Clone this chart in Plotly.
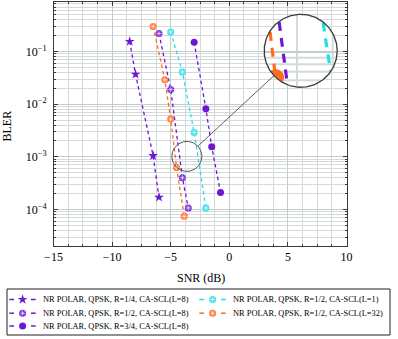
import numpy as np
import plotly.graph_objects as go

# ---------------- data ----------------
snr_r14_l8 = [-8.5, -8.0, -6.5, -6.0]
bler_r14_l8 = [0.155, 0.037, 1.05e-3, 1.7e-4]

snr_r12_l1 = [-5.0, -4.0, -3.0, -2.0]
bler_r12_l1 = [0.235, 0.041, 2.9e-3, 1.07e-4]

snr_r12_l8 = [-6.0, -5.0, -4.0, -3.5]
bler_r12_l8 = [0.22, 0.019, 4.0e-4, 1.07e-4]

snr_r12_l32 = [-6.5, -5.5, -5.0, -4.5, -3.85]
bler_r12_l32 = [0.30, 0.029, 5.2e-3, 6.3e-4, 7.4e-5]

snr_r34_l8 = [-3.0, -2.0, -1.5, -0.75]
bler_r34_l8 = [0.15, 8.2e-3, 1.55e-3, 2.1e-4]

labels = [
    "NR POLAR, QPSK, R=1/4, CA-SCL(L=8)",
    "NR POLAR, QPSK, R=1/2, CA-SCL(L=1)",
    "NR POLAR, QPSK, R=1/2, CA-SCL(L=8)",
    "NR POLAR, QPSK, R=1/2, CA-SCL(L=32)",
    "NR POLAR, QPSK, R=3/4, CA-SCL(L=8)",
]
x_tick_vals = [-15, -10, -5, 0, 5, 10]

# ---------------- styles ----------------
PURPLE = "#7016d6"
CYAN = "#1fe0e8"
ORANGE = "#ff6a1c"
GRID = "#c3cbcb"
GRIDM = "#d4dada"
AX = "#3a3a3a"
SERIF = "Liberation Serif"

series = [
    dict(x=snr_r14_l8, y=bler_r14_l8, color=PURPLE, symbol="star", size=7.5, pattern=False),
    dict(x=snr_r12_l1, y=bler_r12_l1, color=CYAN, symbol="circle", size=7, pattern=True),
    dict(x=snr_r12_l8, y=bler_r12_l8, color=PURPLE, symbol="circle", size=7, pattern=True),
    dict(x=snr_r12_l32, y=bler_r12_l32, color=ORANGE, symbol="circle", size=7, pattern=True),
    dict(x=snr_r34_l8, y=bler_r34_l8, color=PURPLE, symbol="circle", size=7, pattern=False),
]

# ---------------- geometry ----------------
FW, FH = 398, 339
PL, PR, PT, PB = 53.5, 346.5, 1.5, 245.8
XR = [-15, 10]
YR = [-4.69, -0.05]


def px(x):
    return PL + (np.asarray(x, float) - XR[0]) / (XR[1] - XR[0]) * (PR - PL)


def py(y):
    return PT + (YR[1] - np.log10(np.asarray(y, float))) / (YR[1] - YR[0]) * (PB - PT)


# spy (zoom) settings
spy_x, spy_y = -3.62, 1.02e-3
SC = np.array([float(px(spy_x)), float(py(spy_y))])
r_s = 15.0
BC = np.array([300.7, 50.8])
r_b = 36.5
M = r_b / r_s


def mag(p):
    return BC + M * (np.asarray(p, float) - SC)


def clip_seg(p0, p1, c, r):
    d = p1 - p0
    f = p0 - c
    a = d @ d
    b = 2 * f @ d
    cc = f @ f - r * r
    disc = b * b - 4 * a * cc
    if a == 0 or disc <= 0:
        return None
    s = np.sqrt(disc)
    t0 = (-b - s) / (2 * a)
    t1 = (-b + s) / (2 * a)
    t0c, t1c = max(t0, 0.0), min(t1, 1.0)
    if t0c >= t1c:
        return None
    return p0 + t0c * d, p0 + t1c * d, t0c, t1c


def clip_polyline(pts, c, r):
    xs, ys = [], []
    prev_end_open = False
    for i in range(len(pts) - 1):
        res = clip_seg(pts[i], pts[i + 1], c, r)
        if res is None:
            prev_end_open = False
            continue
        a, b, t0, t1 = res
        if not (prev_end_open and t0 == 0.0):
            if xs:
                xs.append(None)
                ys.append(None)
            xs.append(a[0])
            ys.append(a[1])
        xs.append(b[0])
        ys.append(b[1])
        prev_end_open = (t1 == 1.0)
    return xs, ys


def disk_clip(center, rad, c, r):
    if np.linalg.norm(center - c) >= r + rad:
        return None
    ang1 = np.linspace(0, 2 * np.pi, 72, endpoint=False)
    pts = [center + rad * np.array([np.cos(a), np.sin(a)]) for a in ang1]
    pts = [p for p in pts if np.linalg.norm(p - c) <= r]
    ang2 = np.linspace(0, 2 * np.pi, 360, endpoint=False)
    pts2 = [c + r * np.array([np.cos(a), np.sin(a)]) for a in ang2]
    pts2 = [p for p in pts2 if np.linalg.norm(p - center) <= rad]
    allp = pts + pts2
    if len(allp) < 3:
        return None
    m = np.mean(allp, axis=0)
    allp.sort(key=lambda p: np.arctan2(p[1] - m[1], p[0] - m[0]))
    return allp


fig = go.Figure()

# ---------------- main traces ----------------
for s in series:
    fig.add_trace(go.Scatter(
        x=s["x"], y=s["y"], mode="lines+markers", showlegend=False,
        line=dict(color=s["color"], width=1.3, dash="3.5px,3px"),
        marker=dict(symbol=s["symbol"], size=s["size"], color=s["color"], line=dict(width=0)),
        xaxis="x", yaxis="y", hoverinfo="skip",
    ))
    if s["pattern"]:
        fig.add_trace(go.Scatter(
            x=s["x"], y=s["y"], mode="markers", showlegend=False,
            marker=dict(symbol="asterisk-open", size=5.5, color="rgba(255,255,255,0.55)",
                        line=dict(width=1, color="rgba(255,255,255,0.55)")),
            xaxis="x", yaxis="y", hoverinfo="skip",
        ))

# ---------------- spy / magnifier (pixel overlay) ----------------
th = np.linspace(0, 2 * np.pi, 241)
big_x = BC[0] + r_b * np.cos(th)
big_y = BC[1] + r_b * np.sin(th)
fig.add_trace(go.Scatter(x=big_x, y=big_y, mode="lines", fill="toself", fillcolor="white",
                         line=dict(width=0, color="white"), xaxis="x2", yaxis="y2",
                         showlegend=False, hoverinfo="skip"))

# magnified grid
gx, gy, gxM, gyM = [], [], [], []
for xv in np.arange(-15, 10.001, 1.25):
    p0 = mag([px(xv), PT]); p1 = mag([px(xv), PB])
    res = clip_seg(p0, p1, BC, r_b - 0.5)
    if res is not None:
        a, b, _, _ = res
        tgt = (gxM, gyM) if abs(xv / 5 - round(xv / 5)) < 1e-9 else (gx, gy)
        tgt[0].extend([a[0], b[0], None]); tgt[1].extend([a[1], b[1], None])
for n in range(-6, 1):
    for k in range(1, 10):
        yv = k * 10.0 ** n
        p0 = mag([PL, py(yv)]); p1 = mag([PR, py(yv)])
        res = clip_seg(p0, p1, BC, r_b - 0.5)
        if res is not None:
            a, b, _, _ = res
            tgt = (gxM, gyM) if k == 1 else (gx, gy)
            tgt[0].extend([a[0], b[0], None]); tgt[1].extend([a[1], b[1], None])
fig.add_trace(go.Scatter(x=gx, y=gy, mode="lines", line=dict(color=GRIDM, width=2),
                         xaxis="x2", yaxis="y2", showlegend=False, hoverinfo="skip"))
fig.add_trace(go.Scatter(x=gxM, y=gyM, mode="lines", line=dict(color=GRID, width=2),
                         xaxis="x2", yaxis="y2", showlegend=False, hoverinfo="skip"))

# magnified series
for s in series:
    pts = [mag([px(xv), py(yv)]) for xv, yv in zip(s["x"], s["y"])]
    xs, ys = clip_polyline(pts, BC, r_b - 0.5)
    if xs:
        fig.add_trace(go.Scatter(x=xs, y=ys, mode="lines",
                                 line=dict(color=s["color"], width=1.3 * M, dash="9px,7px"),
                                 xaxis="x2", yaxis="y2", showlegend=False, hoverinfo="skip"))
    for p in pts:
        poly = disk_clip(p, s["size"] / 2 * M, BC, r_b - 0.5)
        if poly is not None:
            fig.add_trace(go.Scatter(x=[q[0] for q in poly] + [poly[0][0]],
                                     y=[q[1] for q in poly] + [poly[0][1]],
                                     mode="lines", fill="toself", fillcolor=s["color"],
                                     line=dict(width=0, color=s["color"]),
                                     xaxis="x2", yaxis="y2", showlegend=False, hoverinfo="skip"))

# circle outlines + connector
fig.add_trace(go.Scatter(x=big_x, y=big_y, mode="lines", line=dict(color="#3a3a3a", width=1.3),
                         xaxis="x2", yaxis="y2", showlegend=False, hoverinfo="skip"))
fig.add_trace(go.Scatter(x=SC[0] + r_s * np.cos(th), y=SC[1] + r_s * np.sin(th), mode="lines",
                         line=dict(color="#555555", width=1), xaxis="x2", yaxis="y2",
                         showlegend=False, hoverinfo="skip"))
u = (BC - SC) / np.linalg.norm(BC - SC)
c0 = SC + r_s * u
c1 = BC - r_b * u
fig.add_trace(go.Scatter(x=[c0[0], c1[0]], y=[c0[1], c1[1]], mode="lines",
                         line=dict(color="#3a3a3a", width=0.8), xaxis="x2", yaxis="y2",
                         showlegend=False, hoverinfo="skip"))

# ---------------- manual legend ----------------
row_y = [299.5, 313.2, 326.0]
col_x = [9.3, 199.3]
annotations = []
for i, (s, lab) in enumerate(zip(series, labels)):
    col, row = i % 2, i // 2
    x0 = col_x[col]
    yy = row_y[row]
    fig.add_trace(go.Scatter(x=[x0, x0 + 4.7, None, x0 + 21.7, x0 + 26.4], y=[yy, yy, None, yy, yy],
                             mode="lines", line=dict(color=s["color"], width=1.5),
                             xaxis="x2", yaxis="y2", showlegend=False, hoverinfo="skip"))
    fig.add_trace(go.Scatter(x=[x0 + 13.3], y=[yy], mode="markers",
                             marker=dict(symbol=s["symbol"], size=s["size"], color=s["color"], line=dict(width=0)),
                             xaxis="x2", yaxis="y2", showlegend=False, hoverinfo="skip"))
    if s["pattern"]:
        fig.add_trace(go.Scatter(x=[x0 + 13.3], y=[yy], mode="markers",
                                 marker=dict(symbol="asterisk-open", size=5.5, color="rgba(255,255,255,0.55)",
                                             line=dict(width=1, color="rgba(255,255,255,0.55)")),
                                 xaxis="x2", yaxis="y2", showlegend=False, hoverinfo="skip"))
    annotations.append(dict(x=x0 + 32, y=yy, xref="x2", yref="y2", text=lab, showarrow=False,
                            xanchor="left", yanchor="middle",
                            font=dict(family=SERIF, size=8.4, color="black")))

annotations.append(dict(x=201 / FW, y=1 - 277.7 / FH, xref="paper", yref="paper", text="SNR (dB)",
                        showarrow=False, xanchor="center", yanchor="middle",
                        font=dict(family=SERIF, size=12, color="black")))
annotations.append(dict(x=6.5 / FW, y=1 - 126 / FH, xref="paper", yref="paper", text="BLER",
                        showarrow=False, xanchor="center", yanchor="middle", textangle=-90,
                        font=dict(family=SERIF, size=12, color="black")))

shapes = [dict(type="rect", xref="x2", yref="y2", x0=7, x1=390, y0=289, y1=335,
               line=dict(color="#222222", width=1), fillcolor="rgba(0,0,0,0)", layer="above")]

fig.update_layout(
    width=FW, height=FH,
    margin=dict(l=0, r=0, t=0, b=0),
    paper_bgcolor="white", plot_bgcolor="rgba(0,0,0,0)",
    showlegend=False,
    annotations=annotations,
    shapes=shapes,
    xaxis=dict(
        domain=[PL / FW, PR / FW], range=XR, anchor="y", automargin=False,
        tickmode="array", tickvals=x_tick_vals,
        showgrid=True, gridcolor=GRID, gridwidth=1, zeroline=False,
        showline=True, linecolor=AX, linewidth=1, mirror="ticks",
        ticks="inside", ticklen=4, tickcolor=AX, tickwidth=1,
        tickfont=dict(family=SERIF, size=12, color="black"),
        minor=dict(dtick=1.25, tick0=0, showgrid=True, gridcolor=GRIDM, gridwidth=1,
                   ticks="inside", ticklen=2, tickcolor=AX),
    ),
    yaxis=dict(
        type="log", domain=[1 - PB / FH, 1 - PT / FH], range=YR, anchor="x", automargin=False,
        dtick=1, exponentformat="power",
        showgrid=True, gridcolor=GRID, gridwidth=1, zeroline=False,
        showline=True, linecolor=AX, linewidth=1, mirror="ticks",
        ticks="inside", ticklen=4, tickcolor=AX, tickwidth=1,
        tickfont=dict(family=SERIF, size=9.6, color="black"),
        ticklabelstandoff=4,
        minor=dict(dtick="D1", showgrid=True, gridcolor=GRIDM, gridwidth=1,
                   ticks="inside", ticklen=2, tickcolor=AX),
    ),
    xaxis2=dict(domain=[0, 1], range=[0, FW], anchor="y2", visible=False, fixedrange=True),
    yaxis2=dict(domain=[0, 1], range=[FH, 0], anchor="x2", visible=False, fixedrange=True),
)

fig.write_html("out.html", config={"displayModeBar": False},
               post_script="document.body.style.margin='0';document.body.style.overflow='hidden';")
